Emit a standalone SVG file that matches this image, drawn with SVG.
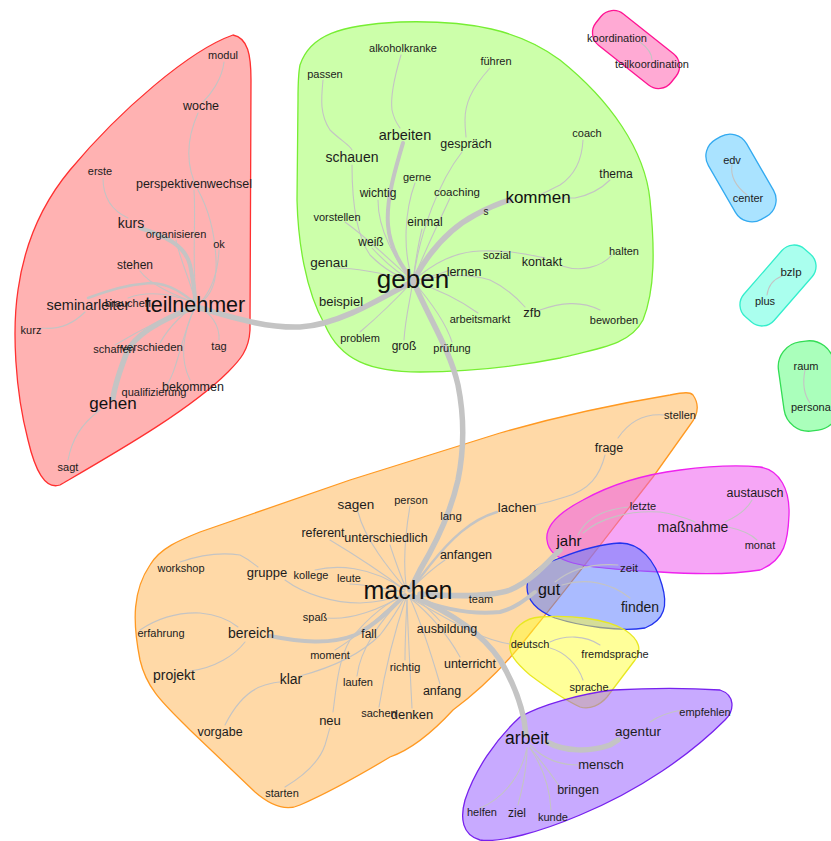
<svg xmlns="http://www.w3.org/2000/svg" width="831" height="841" viewBox="0 0 831 841">
<style>
.b{stroke-width:1.3;fill-opacity:0.5}
.red{fill:#ff6666;stroke:#ff3030}
.grn{fill:#99ff55;stroke:#77ee33}
.org{fill:#ffb350;stroke:#ff9922}
.mag{fill:#ee4dee;stroke:#ee22ee}
.blu{fill:#5577ff;stroke:#2233ee}
.yel{fill:#ffff33;stroke:#e8e822}
.pur{fill:#9155ff;stroke:#7722ee}
.pnk{fill:#ff55aa;stroke:#ff1493}
.sky{fill:#55c8ff;stroke:#33aaf0}
.aqu{fill:#55ffdd;stroke:#33eecc}
.mnt{fill:#55ff77;stroke:#33dd55}
.e{fill:none;stroke:#c4c4c4;stroke-linecap:round;stroke-width:1.1}
.m{stroke-width:2.4}
.t{stroke-width:4}
.h{stroke-width:5.5}
text{font-family:"Liberation Sans",Arial,sans-serif;fill:#1c1c1c;text-anchor:middle}
.s10{font-size:10px}.s11{font-size:11px}.s115{font-size:11.5px}.s12{font-size:12px}.s125{font-size:12.5px}
.s13{font-size:13px}.s135{font-size:13.5px}.s14{font-size:14px}.s145{font-size:14.5px}.s15{font-size:15px}
.s16{font-size:16px}.s17{font-size:17px}.s175{font-size:17.5px}.s21{font-size:21.5px}.s25{font-size:25px}.s26{font-size:26px}
.hub{fill:#111}
</style>

<g id="communities">
<path class="b red" d="M233,35 C248,38 251,55 251,80 L250,330 C249,350 240,360 228,372 C190,410 120,450 60,485 C45,490 35,470 28,440 C15,390 12,330 18,290 C25,240 45,200 70,170 C120,110 190,50 233,35 Z"/>
<path class="b grn" d="M300,65 C310,35 340,25 400,22 C470,20 520,30 560,60 C610,100 645,150 650,200 C655,250 655,290 643,320 C630,345 600,348 560,358 C520,366 470,372 420,372 C370,372 340,360 325,325 C305,290 298,240 297,200 L298,100 C298,85 298,75 300,65 Z"/>
<path class="b org" d="M693,395 C700,405 698,415 690,425 L653,477 C610,532 570,585 533,630 C510,660 480,690 453,710 C430,735 410,750 390,757 C360,775 330,792 300,805 C285,812 270,805 255,792 L190,730 C165,705 147,690 140,660 C132,620 133,590 150,565 C160,548 180,540 200,532 L350,480 L500,433 C580,410 640,400 670,395 C685,392 690,392 693,395 Z"/>
<path class="b mag" d="M547,540 C545,525 560,512 583,500 C610,485 640,475 680,470 C710,466 740,465 760,467 C780,470 790,490 789,515 C788,540 785,560 760,570 C730,575 690,574 660,572 C620,570 590,568 573,563 C555,558 548,550 547,540 Z"/>
<path class="b blu" d="M527,587 C527,575 540,565 560,558 C580,550 600,544 620,543 C640,543 655,560 662,585 C668,605 665,620 645,628 C620,632 580,626 555,618 C535,610 527,600 527,587 Z"/>
<path class="b yel" d="M510,643 C512,628 525,618 540,617 C570,615 605,618 625,630 C640,640 642,650 635,660 L607,697 C600,705 590,710 580,707 C565,700 550,690 530,675 C515,662 508,653 510,643 Z"/>
<path class="b pur" d="M520,717 C540,705 580,694 613,690 C650,688 690,688 720,690 C735,695 735,710 725,720 C690,755 640,790 580,815 C540,832 500,843 480,840 C462,835 460,818 465,800 C475,770 495,740 520,717 Z"/>
<rect class="b pnk" x="-48" y="-20" width="96" height="40" rx="16" transform="translate(636,49.5) rotate(38.5)"/>
<rect class="b sky" x="-46" y="-22" width="92" height="44" rx="19" transform="translate(741,178) rotate(60)"/>
<rect class="b aqu" x="-45" y="-20" width="90" height="40" rx="16" transform="translate(778,285.5) rotate(-49)"/>
<rect class="b mnt" x="-45" y="-28" width="90" height="56" rx="25" transform="translate(809,386) rotate(82)"/>
</g>

<g id="connectors">
<path class="e" d="M224,62 C222,80 210,95 203,102"/>
<path class="e" d="M198,113 C186,140 185,165 198,190 C210,212 215,235 216,260 C217,280 212,295 200,303"/>
<path class="e" d="M194,190 C196,220 192,260 196,300"/>
<path class="e" d="M219,250 C218,270 212,290 200,303"/>
<path class="e" d="M103,178 C103,200 115,212 128,218"/>
<path class="e t" d="M140,228 C165,236 185,245 190,265 C193,280 195,290 195,300"/>
<path class="e" d="M176,240 C180,260 190,280 195,300"/>
<path class="e" d="M140,271 C150,285 175,295 195,303"/>
<path class="e m" d="M88,298 C110,290 125,285 150,283 C170,283 185,295 195,303"/>
<path class="e" d="M42,328 C60,330 75,322 85,312"/>
<path class="e" d="M128,298 C150,290 175,295 195,303"/>
<path class="e" d="M115,345 C140,330 170,315 195,306"/>
<path class="e" d="M160,343 C170,325 185,312 195,306"/>
<path class="e" d="M219,340 C220,325 210,312 197,306"/>
<path class="e" d="M190,380 C180,360 182,335 195,307"/>
<path class="e" d="M165,388 C178,370 180,340 195,307"/>
<path class="e h" d="M195,307 C160,320 135,335 127,352 C120,370 115,385 113,398"/>
<path class="e" d="M100,410 C80,425 72,440 68,460"/>
<path class="e h" d="M200,308 C235,318 265,328 300,327 C335,325 370,305 413,281"/>
<path class="e" d="M401,55 C395,75 390,95 392,110 C394,120 398,125 400,128"/>
<path class="e" d="M323,80 C321,100 320,115 330,130 C340,140 350,145 352,150"/>
<path class="e" d="M352,165 C352,200 356,235 370,255 C385,270 400,278 413,281"/>
<path class="e t" d="M403,143 C395,170 386,200 388,225 C390,250 403,268 413,281"/>
<path class="e" d="M378,200 C378,230 395,260 413,281"/>
<path class="e" d="M415,183 C405,210 402,250 413,281"/>
<path class="e" d="M462,152 C440,180 420,230 413,281"/>
<path class="e" d="M490,68 C470,90 465,105 465,120 C465,130 466,135 466,137"/>
<path class="e" d="M450,198 C440,220 425,250 413,281"/>
<path class="e" d="M422,229 C418,245 415,265 413,281"/>
<path class="e" d="M345,222 C370,240 395,265 413,281"/>
<path class="e" d="M372,248 C385,262 400,275 413,281"/>
<path class="e" d="M335,268 C360,268 390,275 413,281"/>
<path class="e" d="M360,332 C380,315 400,295 413,281"/>
<path class="e" d="M404,340 C405,320 410,300 413,281"/>
<path class="e" d="M452,342 C445,320 425,295 413,281"/>
<path class="e" d="M478,313 C460,300 440,290 413,281"/>
<path class="e" d="M450,270 C438,275 425,278 413,281"/>
<path class="e" d="M413,281 C435,262 455,252 480,251 C510,250 530,255 545,258"/>
<path class="e" d="M562,266 C580,272 600,268 612,255"/>
<path class="e h" d="M413,281 C430,250 450,228 475,215 C490,207 500,203 510,200"/>
<path class="e" d="M583,140 C582,160 575,175 560,185 C550,190 545,192 540,195"/>
<path class="e" d="M610,180 C600,190 590,195 575,198 L560,198"/>
<path class="e" d="M413,281 C440,276 465,272 490,280 C505,287 517,298 525,307"/>
<path class="e" d="M540,310 C560,303 580,300 600,310"/>
<path class="e h" d="M415,285 C430,320 450,350 458,385 C465,420 463,455 458,480 C450,515 435,545 420,570 L410,590"/>
<path class="e" d="M665,415 C645,413 630,420 618,438"/>
<path class="e" d="M605,455 C600,475 590,490 565,497 C550,502 540,504 535,505"/>
<path class="e m" d="M497,512 C470,520 450,540 430,565 L412,588"/>
<path class="e" d="M358,512 C365,540 390,570 405,588"/>
<path class="e" d="M410,506 C405,535 403,560 406,585"/>
<path class="e" d="M330,540 C355,555 385,575 405,590"/>
<path class="e" d="M390,545 C395,560 400,575 406,588"/>
<path class="e" d="M445,560 C430,570 420,580 410,590"/>
<path class="e" d="M180,562 C200,555 220,552 240,555 C250,560 255,565 258,567"/>
<path class="e" d="M285,580 C305,595 335,603 360,603 C380,602 395,598 405,594"/>
<path class="e" d="M315,570 C335,565 370,565 405,590"/>
<path class="e" d="M350,584 C370,585 390,590 405,592"/>
<path class="e" d="M140,630 C155,620 175,612 200,613 C220,615 232,622 238,627"/>
<path class="e t" d="M270,636 C300,642 330,645 355,635 C375,625 390,610 405,595"/>
<path class="e" d="M328,618 C350,620 380,610 405,594"/>
<path class="e" d="M369,628 C380,615 395,603 405,596"/>
<path class="e" d="M335,650 C360,635 385,612 405,596"/>
<path class="e" d="M300,676 C330,668 360,655 380,635 C392,620 400,605 406,596"/>
<path class="e" d="M190,671 C215,668 235,655 245,642"/>
<path class="e" d="M225,725 C235,705 248,690 265,685 C272,683 278,682 280,682"/>
<path class="e" d="M285,787 C305,775 320,760 325,745 C328,735 329,730 330,728"/>
<path class="e" d="M333,712 C336,690 338,660 350,640 C370,615 390,600 405,596"/>
<path class="e" d="M357,676 C360,650 380,620 405,596"/>
<path class="e" d="M379,707 C385,670 395,630 406,598"/>
<path class="e" d="M412,708 C410,670 408,630 407,600"/>
<path class="e" d="M405,660 C405,640 406,620 407,600"/>
<path class="e" d="M440,684 C430,650 420,620 410,598"/>
<path class="e" d="M460,657 C445,630 425,610 410,598"/>
<path class="e" d="M440,621 C430,610 420,600 410,596"/>
<path class="e" d="M470,598 C450,598 430,597 410,595"/>
<path class="e h" d="M420,594 C450,596 490,597 510,590 C530,582 545,565 560,550"/>
<path class="e t" d="M415,598 C440,608 470,615 500,612 C515,608 525,600 535,592"/>
<path class="e" d="M410,598 C450,620 480,640 510,644"/>
<path class="e h" d="M412,596 C445,610 480,630 500,660 C512,680 520,700 524,720 L526,735"/>
<path class="e" d="M578,535 C585,520 600,510 628,507"/>
<path class="e" d="M583,533 C600,518 630,510 660,512 C680,515 690,520 695,522"/>
<path class="e" d="M725,522 C740,515 748,508 752,500"/>
<path class="e" d="M728,527 C742,530 752,535 757,540"/>
<path class="e" d="M555,582 C570,570 590,563 618,565"/>
<path class="e" d="M562,585 C585,578 610,582 630,598"/>
<path class="e" d="M550,642 C565,635 585,635 600,645"/>
<path class="e" d="M550,648 C565,652 578,665 583,680"/>
<path class="e h" d="M547,742 C565,752 590,752 610,745 L618,740"/>
<path class="e" d="M650,722 C660,715 670,712 682,710"/>
<path class="e" d="M530,745 C545,760 560,765 578,765"/>
<path class="e" d="M530,748 C545,765 555,780 560,787"/>
<path class="e" d="M527,748 C520,780 500,800 480,808"/>
<path class="e" d="M527,748 C527,770 522,790 518,805"/>
<path class="e" d="M530,748 C545,770 550,790 551,810"/>
<path class="e" d="M640,42 C648,48 652,55 652,60"/>
<path class="e" d="M732,165 C730,178 738,188 747,195"/>
<path class="e" d="M782,276 C772,280 768,287 767,295"/>
<path class="e" d="M805,370 C803,380 803,393 810,403"/>
</g>

<g id="nodes">
<g id="n-modul"><text class="s11" x="223" y="59">modul</text></g>
<g id="n-woche"><text class="s125" x="201" y="110">woche</text></g>
<g id="n-erste"><text class="s11" x="100" y="175">erste</text></g>
<g id="n-perspektivenwechsel"><text class="s125" x="194" y="188">perspektivenwechsel</text></g>
<g id="n-kurs"><text class="s14" x="131" y="228">kurs</text></g>
<g id="n-organisieren"><text class="s11" x="176" y="238">organisieren</text></g>
<g id="n-ok"><text class="s11" x="219" y="248">ok</text></g>
<g id="n-stehen"><text class="s12" x="135" y="269">stehen</text></g>
<g id="n-brauchen"><text class="s11" x="128" y="307">brauchen</text></g>
<g id="n-seminarleiter"><text class="s145" x="88" y="310">seminarleiter</text></g>
<g id="n-teilnehmer"><text class="s21 hub" x="195" y="312">teilnehmer</text></g>
<g id="n-kurz"><text class="s11" x="31" y="334">kurz</text></g>
<g id="n-schaffen"><text class="s11" x="114" y="353">schaffen</text></g>
<g id="n-verschieden"><text class="s115" x="152" y="351">verschieden</text></g>
<g id="n-tag"><text class="s11" x="219" y="350">tag</text></g>
<g id="n-qualifizierung"><text class="s11" x="154" y="396">qualifizierung</text></g>
<g id="n-bekommen"><text class="s125" x="193" y="391">bekommen</text></g>
<g id="n-gehen"><text class="s17 hub" x="113" y="409">gehen</text></g>
<g id="n-sagt"><text class="s11" x="68" y="471">sagt</text></g>

<g id="n-alkoholkranke"><text class="s11" x="403" y="52">alkoholkranke</text></g>
<g id="n-fuehren"><text class="s11" x="496" y="65">führen</text></g>
<g id="n-passen"><text class="s11" x="325" y="78">passen</text></g>
<g id="n-arbeiten"><text class="s145" x="405" y="140">arbeiten</text></g>
<g id="n-gespraech"><text class="s125" x="466" y="148">gespräch</text></g>
<g id="n-coach"><text class="s11" x="587" y="137">coach</text></g>
<g id="n-schauen"><text class="s14" x="352" y="162">schauen</text></g>
<g id="n-gerne"><text class="s11" x="417" y="181">gerne</text></g>
<g id="n-thema"><text class="s12" x="616" y="178">thema</text></g>
<g id="n-wichtig"><text class="s12" x="378" y="197">wichtig</text></g>
<g id="n-coaching"><text class="s115" x="457" y="196">coaching</text></g>
<g id="n-kommen"><text class="s17 hub" x="538" y="203">kommen</text></g>
<g id="n-s"><text class="s10" x="486" y="215">s</text></g>
<g id="n-vorstellen"><text class="s11" x="337" y="221">vorstellen</text></g>
<g id="n-einmal"><text class="s12" x="425" y="226">einmal</text></g>
<g id="n-weiss"><text class="s12" x="371" y="246">weiß</text></g>
<g id="n-genau"><text class="s135" x="329" y="267">genau</text></g>
<g id="n-sozial"><text class="s11" x="497" y="259">sozial</text></g>
<g id="n-lernen"><text class="s125" x="464" y="276">lernen</text></g>
<g id="n-kontakt"><text class="s125" x="542" y="266">kontakt</text></g>
<g id="n-halten"><text class="s11" x="624" y="255">halten</text></g>
<g id="n-geben"><text class="s26 hub" x="413" y="288">geben</text></g>
<g id="n-beispiel"><text class="s13" x="341" y="306">beispiel</text></g>
<g id="n-zfb"><text class="s13" x="532" y="317">zfb</text></g>
<g id="n-arbeitsmarkt"><text class="s11" x="480" y="323">arbeitsmarkt</text></g>
<g id="n-beworben"><text class="s11" x="614" y="324">beworben</text></g>
<g id="n-problem"><text class="s11" x="360" y="342">problem</text></g>
<g id="n-gross"><text class="s12" x="404" y="350">groß</text></g>
<g id="n-pruefung"><text class="s11" x="452" y="352">prüfung</text></g>

<g id="n-koordination"><text class="s11" x="617" y="42">koordination</text></g>
<g id="n-teilkoordination"><text class="s11" x="652" y="68">teilkoordination</text></g>
<g id="n-edv"><text class="s11" x="732" y="164">edv</text></g>
<g id="n-center"><text class="s11" x="748" y="202">center</text></g>
<g id="n-bzlp"><text class="s115" x="791" y="276">bzlp</text></g>
<g id="n-plus"><text class="s11" x="765" y="305">plus</text></g>
<g id="n-raum"><text class="s11" x="806" y="370">raum</text></g>
<g id="n-personal"><text class="s11" x="791" y="411" style="text-anchor:start">personal</text></g>

<g id="n-stellen"><text class="s11" x="680" y="419">stellen</text></g>
<g id="n-frage"><text class="s125" x="609" y="452">frage</text></g>
<g id="n-sagen"><text class="s135" x="356" y="509">sagen</text></g>
<g id="n-person"><text class="s11" x="411" y="504">person</text></g>
<g id="n-lachen"><text class="s13" x="517" y="512">lachen</text></g>
<g id="n-lang"><text class="s115" x="451" y="520">lang</text></g>
<g id="n-referent"><text class="s125" x="323" y="537">referent</text></g>
<g id="n-unterschiedlich"><text class="s125" x="386" y="542">unterschiedlich</text></g>
<g id="n-anfangen"><text class="s125" x="466" y="559">anfangen</text></g>
<g id="n-workshop"><text class="s11" x="181" y="572">workshop</text></g>
<g id="n-gruppe"><text class="s13" x="267" y="577">gruppe</text></g>
<g id="n-kollege"><text class="s11" x="311" y="579">kollege</text></g>
<g id="n-leute"><text class="s11" x="349" y="582">leute</text></g>
<g id="n-machen"><text class="s25 hub" x="408" y="599">machen</text></g>
<g id="n-team"><text class="s11" x="481" y="603">team</text></g>
<g id="n-spass"><text class="s11" x="315" y="621">spaß</text></g>
<g id="n-erfahrung"><text class="s11" x="161" y="637">erfahrung</text></g>
<g id="n-bereich"><text class="s14" x="251" y="638">bereich</text></g>
<g id="n-fall"><text class="s12" x="369" y="638">fall</text></g>
<g id="n-ausbildung"><text class="s125" x="447" y="633">ausbildung</text></g>
<g id="n-moment"><text class="s11" x="330" y="659">moment</text></g>
<g id="n-projekt"><text class="s14" x="174" y="680">projekt</text></g>
<g id="n-klar"><text class="s14" x="291" y="684">klar</text></g>
<g id="n-richtig"><text class="s115" x="405" y="671">richtig</text></g>
<g id="n-unterricht"><text class="s125" x="470" y="668">unterricht</text></g>
<g id="n-laufen"><text class="s11" x="358" y="686">laufen</text></g>
<g id="n-anfang"><text class="s125" x="442" y="695">anfang</text></g>
<g id="n-neu"><text class="s13" x="330" y="725">neu</text></g>
<g id="n-sachen"><text class="s11" x="379" y="717">sachen</text></g>
<g id="n-denken"><text class="s13" x="412" y="719">denken</text></g>
<g id="n-vorgabe"><text class="s125" x="220" y="736">vorgabe</text></g>
<g id="n-starten"><text class="s11" x="282" y="797">starten</text></g>

<g id="n-letzte"><text class="s11" x="643" y="510">letzte</text></g>
<g id="n-austausch"><text class="s125" x="755" y="497">austausch</text></g>
<g id="n-jahr"><text class="s15 hub" x="569" y="546">jahr</text></g>
<g id="n-massnahme"><text class="s14" x="693" y="532">maßnahme</text></g>
<g id="n-monat"><text class="s11" x="760" y="549">monat</text></g>
<g id="n-zeit"><text class="s115" x="629" y="572">zeit</text></g>
<g id="n-gut"><text class="s16 hub" x="549" y="595">gut</text></g>
<g id="n-finden"><text class="s14" x="640" y="612">finden</text></g>
<g id="n-deutsch"><text class="s11" x="530" y="648">deutsch</text></g>
<g id="n-fremdsprache"><text class="s11" x="615" y="658">fremdsprache</text></g>
<g id="n-sprache"><text class="s11" x="589" y="691">sprache</text></g>
<g id="n-arbeit"><text class="s175 hub" x="527" y="744">arbeit</text></g>
<g id="n-agentur"><text class="s135" x="638" y="736">agentur</text></g>
<g id="n-empfehlen"><text class="s11" x="705" y="716">empfehlen</text></g>
<g id="n-mensch"><text class="s13" x="601" y="769">mensch</text></g>
<g id="n-bringen"><text class="s125" x="578" y="794">bringen</text></g>
<g id="n-helfen"><text class="s11" x="482" y="816">helfen</text></g>
<g id="n-ziel"><text class="s12" x="517" y="817">ziel</text></g>
<g id="n-kunde"><text class="s11" x="553" y="821">kunde</text></g>
</g>
</svg>
